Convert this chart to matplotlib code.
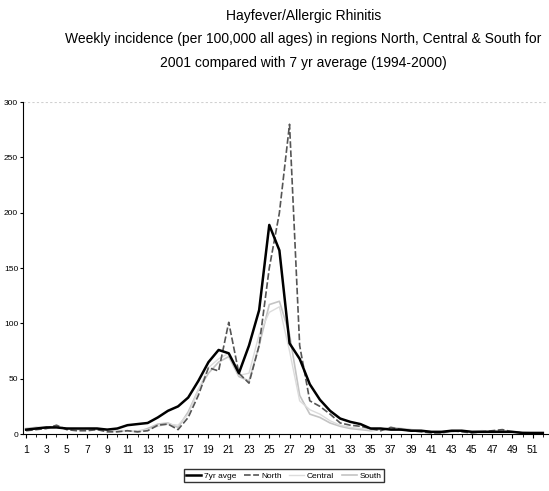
import matplotlib.pyplot as plt
import numpy as np

# Data (weekly incidence per 100,000)

weeks = list(range(1, 53))

avg_7yr = [4, 5, 6, 6, 5, 5, 5, 5, 4, 5,
           8, 9, 10, 15, 21, 25, 33, 48, 65, 76,
           73, 55, 80, 112, 189, 166, 82, 68, 45, 31,
           21, 14, 11, 9, 5, 5, 4, 4, 3, 3,
           2, 2, 3, 3, 2, 2, 2, 2, 2, 1,
           1, 1]

north = [3, 4, 5, 8, 4, 3, 3, 4, 2, 2,
         3, 2, 3, 8, 9, 4, 15, 35, 60, 57,
         101, 55, 46, 80, 150, 200, 280, 80, 30, 25,
         18, 10, 8, 7, 5, 3, 6, 4, 3, 2,
         1, 1, 3, 2, 1, 2, 3, 4, 2, 1,
         1, 0]

central = [5, 6, 6, 7, 5, 4, 4, 4, 3, 3,
           3, 3, 4, 7, 9, 8, 18, 40, 60, 68,
           73, 53, 55, 90, 110, 115, 75, 30, 22, 18,
           12, 8, 6, 5, 4, 4, 5, 4, 3, 2,
           2, 2, 2, 3, 2, 2, 3, 3, 2, 2,
           1, 1]

south = [5, 6, 5, 6, 5, 4, 5, 5, 4, 3,
         3, 2, 5, 9, 10, 6, 20, 40, 55, 65,
         70, 52, 48, 80, 117, 120, 90, 35, 18, 15,
         10, 7, 5, 4, 3, 4, 6, 5, 4, 3,
         2, 1, 2, 3, 2, 3, 2, 3, 2, 1,
         1, 1]

tick_weeks = list(range(1, 53, 2))
title_lines = "Hayfever/Allergic Rhinitis\nWeekly incidence (per 100,000 all ages) in regions North, Central & South for\n2001 compared with 7 yr average (1994-2000)"

plt.rcParams['font.family'] = ['Liberation Sans', 'DejaVu Sans']

fig = plt.figure(figsize=(5.49, 4.91), dpi=100)
ax = fig.add_axes([0.042, 0.116, 0.956, 0.676])

ax.plot(weeks, south, color='#c4c4c4', lw=1.2, label='South')
ax.plot(weeks, central, color='#dcdcdc', lw=1.0, label='Central')
ax.plot(weeks, north, color='#555555', lw=1.2, ls=(0, (4, 1.5)), label='North')
ax.plot(weeks, avg_7yr, color='black', lw=1.8, label='7yr avge')

ax.set_xlim(0.7, 52.5)
ax.set_ylim(0, 300)
ax.set_yticks(range(0, 301, 50))
ax.set_xticks(tick_weeks)
ax.set_xticks(weeks, minor=True)
ax.tick_params(axis='x', labelsize=7.5, length=3, width=0.8, pad=5)
ax.tick_params(axis='y', labelsize=6, length=2.5, width=0.8, pad=1)
ax.tick_params(axis='x', which='minor', length=2)
ax.axhline(300, color='#d0d0d0', lw=0.8, ls=(0, (2, 2)))
for side in ['top', 'right']:
    ax.spines[side].set_visible(False)

fig.text(0.553, 0.982, title_lines, ha='center', va='top', fontsize=10,
         linespacing=1.85)

handles, labels = ax.get_legend_handles_labels()
order = [3, 2, 1, 0]
fig.legend([handles[i] for i in order], [labels[i] for i in order],
           loc='center', bbox_to_anchor=(0.517, 0.031), ncol=4, fontsize=6,
           frameon=True, fancybox=False, edgecolor='black', handlelength=1.8,
           columnspacing=0.9, handletextpad=0.3, borderpad=0.3)

fig.savefig('out.png', dpi=100)
